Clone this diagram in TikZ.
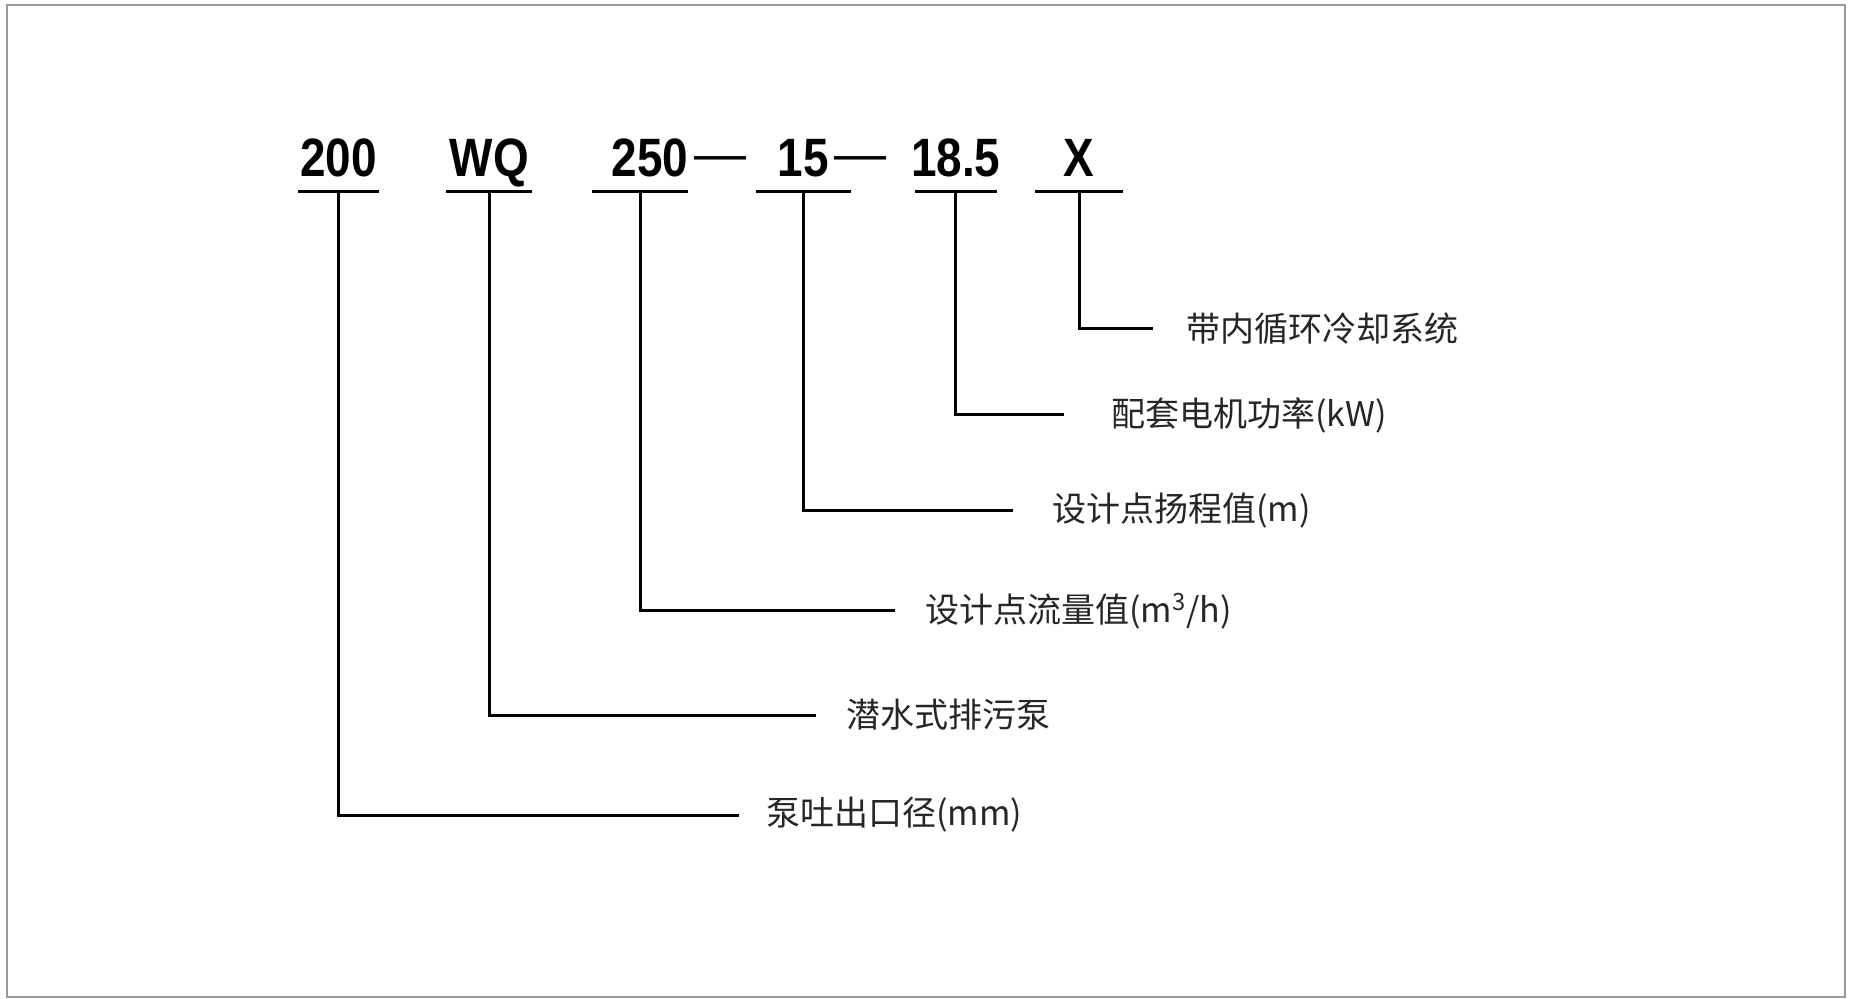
\documentclass[tikz,border=0pt]{standalone}
\usepackage{fontspec}
\setmainfont{Liberation Sans}
\newfontfamily\codefont[FakeStretch=0.85]{Liberation Sans Bold}
\newfontfamily\cjk{Noto Sans CJK SC}
\usetikzlibrary{positioning}
\newcommand{\codetxt}[1]{\makebox[0pt]{#1}}
\tikzset{
  code/.style={inner sep=0pt, text height=19.5pt, text depth=7pt, font=\codefont\fontsize{27}{30}\selectfont},
  dashmark/.style={inner sep=0pt, font=\fontsize{26}{30}\selectfont},
  desc/.style={inner sep=0pt, anchor=west, text=black!85, font=\cjk\fontsize{17}{20}\selectfont},
  uline/.style={line width=1.8pt},
  lead/.style={line width=1.5pt},
  frame/.style={draw=gray!80, line width=1.25pt}
}

\begin{document}
\begin{tikzpicture}[x=0.5pt, y=-0.5pt]
\useasboundingbox (0,0) rectangle (1853,999);
\draw[frame] (7,5) rectangle (1845,997);

% model code
\node (code200) [code, minimum width=40.5pt, anchor=base] at (338.5,177) {\codetxt{200}};
\node (codeWQ) [code, minimum width=42.5pt, right=33.5pt of code200] {\codetxt{WQ}};
\node (code250) [code, minimum width=47.5pt, right=30pt of codeWQ] {\codetxt{\hspace{10pt}250}};
\node (code15) [code, minimum width=47pt, right=34pt of code250] {\codetxt{15}};
\node (code185) [code, minimum width=40.5pt, right=32pt of code15] {\codetxt{18.5}};
\node (codeX) [code, minimum width=44pt, right=19pt of code185] {\codetxt{X}};
\node (dashA) [dashmark, anchor=base] at (720,172) {—};
\node (dashB) [dashmark, anchor=base] at (860,172) {—};

% underlines
\foreach \n in {code200,codeWQ,code250,code15,code185,codeX}
  \draw[uline] (\n.south west) -- (\n.south east);

% meanings
\node (descX) [desc] at (1186,329) {带内循环冷却系统};
\node (desc185) [desc] at (1111,415) {配套电机功率(kW)};
\node (desc15) [desc] at (1052,511) {设计点扬程值(m)};
\node (desc250) [desc] at (925,611) {设计点流量值(m\textsuperscript{3}/h)};
\node (descWQ) [desc] at (846,715) {潜水式排污泵};
\node (desc200) [desc] at (766,815) {泵吐出口径(mm)};

% leaders
\draw[lead, shorten >=16.5pt] (codeX.south) |- (descX.west);
\draw[lead, shorten >=23.5pt] (code185.south) |- (desc185.west);
\draw[lead, shorten >=19.5pt] (code15.south) |- (desc15.west);
\draw[lead, shorten >=15pt] (code250.south) |- (desc250.west);
\draw[lead, shorten >=15pt] (codeWQ.south) |- (descWQ.west);
\draw[lead, shorten >=13.5pt] (code200.south) |- (desc200.west);

\end{tikzpicture}
\end{document}
